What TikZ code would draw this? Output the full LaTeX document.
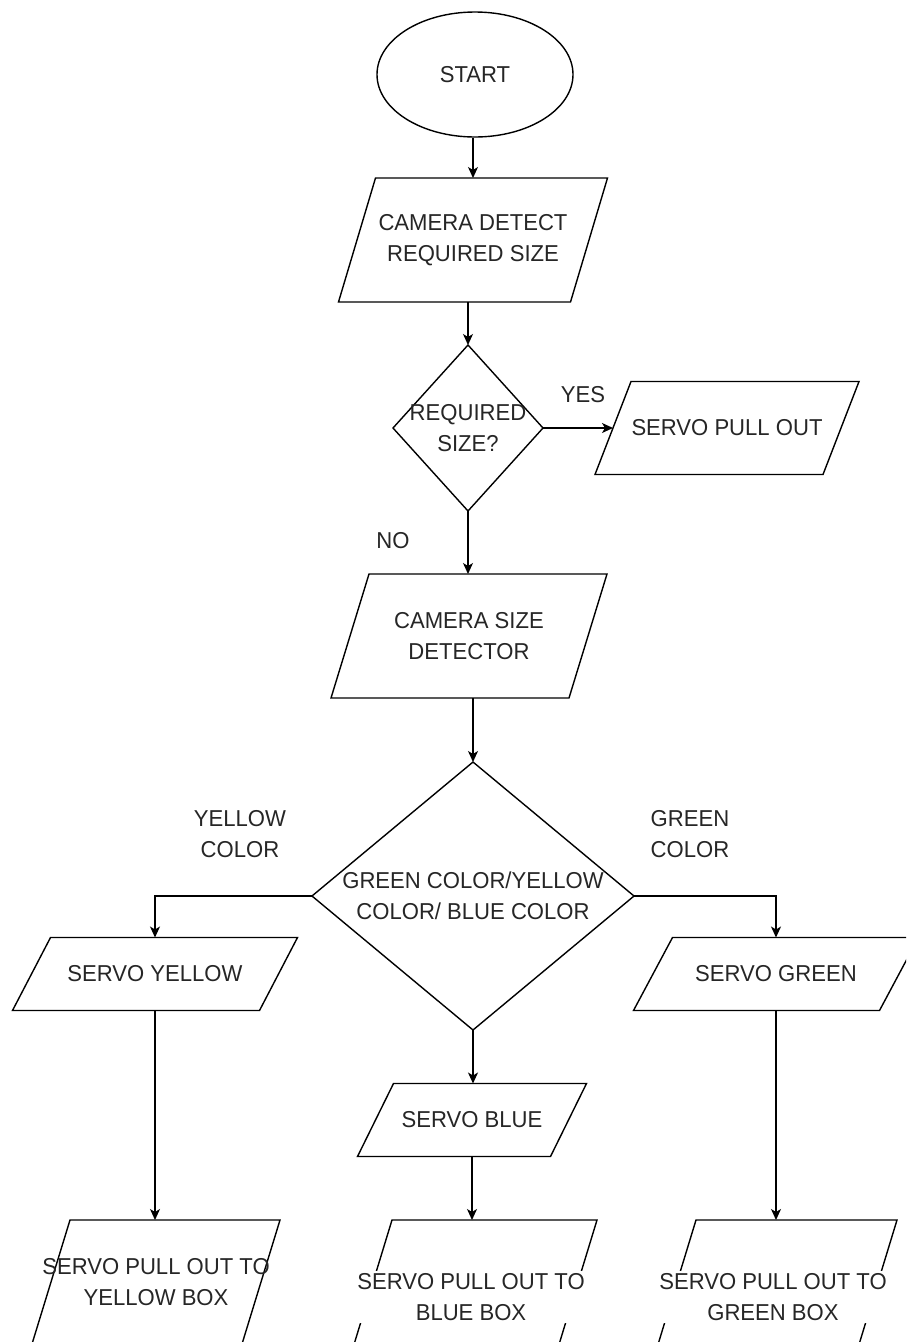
\documentclass[tikz,border=0pt]{standalone}
\usepackage{fontspec}
\setmainfont[FakeStretch=0.96]{Liberation Sans}
\usetikzlibrary{shapes.geometric,arrows.meta,calc}

% #1 text style, #2 name, #3 cx, #4 cy, #5 edge width, #6 height, #7 slant, #8 text
\newcommand\pgram[8]{%
  \draw[shp] ($(#3,#4)+({-#5/2+#7/2},{-#6/2})$) -- ++(#5,0) -- ++({-#7},#6) -- ++({-#5},0) -- cycle;
  \coordinate (#2-n) at (#3,{#4-#6/2});
  \coordinate (#2-s) at (#3,{#4+#6/2});
  \coordinate (#2-w) at ({#3-#5/2},#4);
  \node[txt,#1] (#2) at (#3,#4) {#8};
}
% #1 name, #2 cx, #3 cy, #4 half width, #5 half height, #6 text
\newcommand\dmd[6]{%
  \coordinate (#1-n) at (#2,{#3-#5});
  \coordinate (#1-s) at (#2,{#3+#5});
  \coordinate (#1-w) at ({#2-#4},#3);
  \coordinate (#1-e) at ({#2+#4},#3);
  \draw[shp] (#1-n) -- (#1-e) -- (#1-s) -- (#1-w) -- cycle;
  \node[txt] (#1) at (#2,#3) {#6};
}

\begin{document}
\begin{tikzpicture}[x=1pt,y=-1pt,
  shp/.style={draw=black, line width=1.4pt, line join=miter},
  txt/.style={align=center, inner sep=1pt, font=\fontsize{23}{31}\selectfont, text=black!85},
  wbg/.style={fill=white, inner sep=2pt},
  arr/.style={draw=black, line width=1.4pt, -{Stealth[length=11pt,width=10pt,inset=3pt]}},
]
\useasboundingbox (0,0) rectangle (906,1342);
\clip (0,0) rectangle (906,1342);
\fill[white] (0,0) rectangle (906,1342);

% start
\node[txt, shp, ellipse, minimum width=196, minimum height=125, inner sep=0pt] (start) at (475,74.5) {START};

\pgram{}{cd}{473}{240}{232}{124}{37}{CAMERA DETECT\\REQUIRED SIZE}
\dmd{d1}{468}{428}{75}{83}{REQUIRED\\SIZE?}
\pgram{}{spo}{727}{428}{228}{93}{36}{SERVO PULL OUT}
\pgram{}{csd}{469}{636}{238}{124}{38}{CAMERA SIZE\\DETECTOR}
\dmd{d2}{473}{896}{161}{134}{GREEN COLOR/YELLOW\\COLOR/ BLUE COLOR}
\pgram{}{sy}{155}{974}{247}{73}{38}{SERVO YELLOW}
\pgram{}{sg}{776}{974}{246}{73}{39}{SERVO GREEN}
\pgram{}{sb}{472}{1120}{193}{73}{36}{SERVO BLUE}
\pgram{}{py}{156}{1282}{210}{124}{38}{SERVO PULL OUT TO\\YELLOW BOX}
\pgram{wbg}{pb}{471}{1297}{205}{154}{47}{SERVO PULL OUT TO\\BLUE BOX}
\pgram{wbg}{pg}{773}{1297}{201}{154}{47}{SERVO PULL OUT TO\\GREEN BOX}

% labels
\node[txt] (yes) at (583,395) {YES};
\node[txt] (no) at (393,541) {NO};
\node[txt] (ylab) at (240,834) {YELLOW\\COLOR};
\node[txt] (glab) at (690,834) {GREEN\\COLOR};

% connectors
\draw[arr] (start.south -| cd-n) -- (cd-n);
\draw[arr] (cd-s -| d1-n) -- (d1-n);
\draw[arr] (d1-e) -- (spo-w);
\draw[arr] (d1-s) -- (d1-s |- csd-n);
\draw[arr] (csd-s -| d2-n) -- (d2-n);
\draw[arr] (d2-w) -| (sy-n);
\draw[arr] (d2-e) -| (sg-n);
\draw[arr] (d2-s) -- (d2-s |- sb-n);
\draw[arr] (sy-s) -- (sy-s |- py-n);
\draw[arr] (sb-s) -- (sb-s |- pb-n);
\draw[arr] (sg-s) -- (sg-s |- pg-n);
\end{tikzpicture}
\end{document}
